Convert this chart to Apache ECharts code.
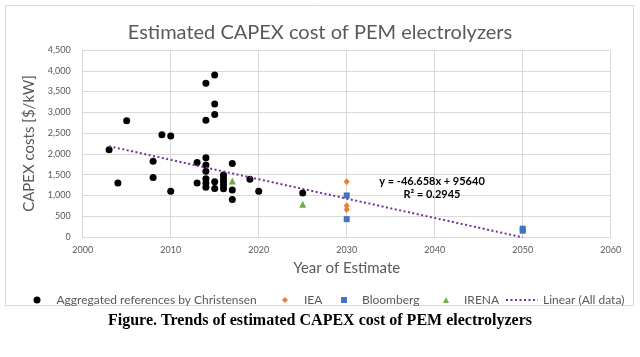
<!DOCTYPE html>
<html>
<head>
<meta charset="utf-8">
<script src="https://cdn.jsdelivr.net/npm/echarts@6/dist/echarts.min.js"></script>
<style>
html,body{margin:0;padding:0;background:#fff;}
#c{width:640px;height:357px;}
</style>
</head>
<body>
<div id="c"></div>
<script>
const christensen = [
  [2003, 2100], [2004, 1300], [2005, 2800],
  [2008, 1820], [2008, 1430], [2009, 2460],
  [2010, 2430], [2010, 1100],
  [2013, 1790], [2013, 1300],
  [2014, 3700], [2014, 2810], [2014, 1910], [2014, 1730], [2014, 1580], [2014, 1400], [2014, 1300], [2014, 1200],
  [2015, 3900], [2015, 3200], [2015, 2950], [2015, 1330], [2015, 1170],
  [2016, 1490], [2016, 1410], [2016, 1330], [2016, 1250], [2016, 1160],
  [2017, 1770], [2017, 1130], [2017, 900],
  [2019, 1390], [2020, 1100], [2025, 1060]
];
const iea = [[2030, 1330], [2030, 750], [2030, 660]];
const bloomberg = [[2030, 1000], [2030, 430], [2050, 200], [2050, 150]];
const irena = [[2017, 1350], [2025, 790]];
const trendSlope = -46.658;
const trendIntercept = 95640;
const trendRange = [2003, 2050];
const trendText = ['y = -46.658x + 95640', 'R² = 0.2945'];
const xTicks = [2000, 2060, 10];
const yTicks = [0, 4500, 500];
const seriesNames = ['Aggregated references by Christensen', 'IEA', 'Bloomberg', 'IRENA', 'Linear (All data)'];

const trend = trendRange.map(x => [x, trendSlope * x + trendIntercept]);

const gray = '#595959';
const font = 'Lato, "Open Sans", sans-serif';
const chart = echarts.init(document.getElementById('c'));

function legendItem(name, left, w, h, pad, extra) {
  return Object.assign({
    data: [name], left: left, top: 289, itemWidth: w, itemHeight: h,
    textStyle: {color: gray, fontSize: 12, fontFamily: font, padding: [0, 0, 0, pad]},
    selectedMode: false
  }, extra || {});
}

chart.setOption({
  animation: false,
  backgroundColor: '#fff',
  title: {
    text: 'Estimated CAPEX cost of PEM electrolyzers',
    left: 'center', top: 18,
    textStyle: {color: gray, fontSize: 20, fontWeight: 'normal', fontFamily: font}
  },
  grid: {left: 82.7, right: 29.3, top: 50, bottom: 120},
  xAxis: {
    type: 'value', min: xTicks[0], max: xTicks[1], interval: xTicks[2],
    name: 'Year of Estimate', nameLocation: 'middle', nameGap: 24,
    nameTextStyle: {color: gray, fontSize: 15, fontFamily: font},
    axisLine: {show: true, lineStyle: {color: '#d9d9d9'}},
    axisTick: {show: false},
    axisLabel: {color: gray, fontSize: 9, fontFamily: font, margin: 9, formatter: v => String(v)},
    splitLine: {show: true, lineStyle: {color: '#d9d9d9'}}
  },
  yAxis: {
    type: 'value', min: yTicks[0], max: yTicks[1], interval: yTicks[2],
    name: 'CAPEX costs [$/kW]', nameLocation: 'middle', nameGap: 42,
    nameTextStyle: {color: gray, fontSize: 15, fontFamily: font},
    axisLine: {show: true, lineStyle: {color: '#d9d9d9'}},
    axisTick: {show: false},
    axisLabel: {color: gray, fontSize: 9, fontFamily: font, margin: 12,
      formatter: v => v.toLocaleString('en-US')},
    splitLine: {show: true, lineStyle: {color: '#d9d9d9'}}
  },
  legend: [
    legendItem(seriesNames[0], 28.5, 7, 7, 11),
    legendItem(seriesNames[1], 277, 6, 6, 11),
    legendItem(seriesNames[2], 336, 6, 6, 10),
    legendItem(seriesNames[3], 438, 6, 6, 10),
    legendItem(seriesNames[4], 500, 32, 6, 0, {itemStyle: {opacity: 0}})
  ],
  series: [
    {name: seriesNames[0], type: 'scatter', data: christensen, symbol: 'circle', symbolSize: 7,
      itemStyle: {color: '#000000', opacity: 1}},
    {name: seriesNames[1], type: 'scatter', data: iea, symbol: 'diamond', symbolSize: [6, 7],
      itemStyle: {color: '#ed7d31', opacity: 1}},
    {name: seriesNames[2], type: 'scatter', data: bloomberg, symbol: 'rect', symbolSize: 6,
      itemStyle: {color: '#4472c4', opacity: 1}},
    {name: seriesNames[3], type: 'scatter', data: irena, symbol: 'triangle', symbolSize: 7,
      itemStyle: {color: '#70ad47', opacity: 1}},
    {name: seriesNames[4], type: 'line', data: trend, symbol: 'none', showSymbol: false,
      lineStyle: {color: '#7030a0', width: 2, type: [2, 2.5]}, itemStyle: {color: '#7030a0'}, z: 5}
  ],
  graphic: [
    {type: 'rect', shape: {x: 5.5, y: 5.5, width: 628, height: 300}, z: -10,
      style: {fill: 'none', stroke: '#d9d9d9', lineWidth: 1}},
    {type: 'text', x: 432, y: 181, z: 10,
      style: {text: trendText[0], fill: '#000', font: 'bold 11px ' + font, align: 'center', verticalAlign: 'middle'}},
    {type: 'text', x: 432, y: 194, z: 10,
      style: {text: trendText[1], fill: '#000', font: 'bold 11px ' + font, align: 'center', verticalAlign: 'middle'}},
    {type: 'text', x: 320, y: 321,
      style: {text: 'Figure. Trends of estimated CAPEX cost of PEM electrolyzers', fill: '#000',
        font: 'bold 16px "Liberation Serif", "Times New Roman", serif', align: 'center', verticalAlign: 'middle'}}
  ]
});
</script>
</body>
</html>
